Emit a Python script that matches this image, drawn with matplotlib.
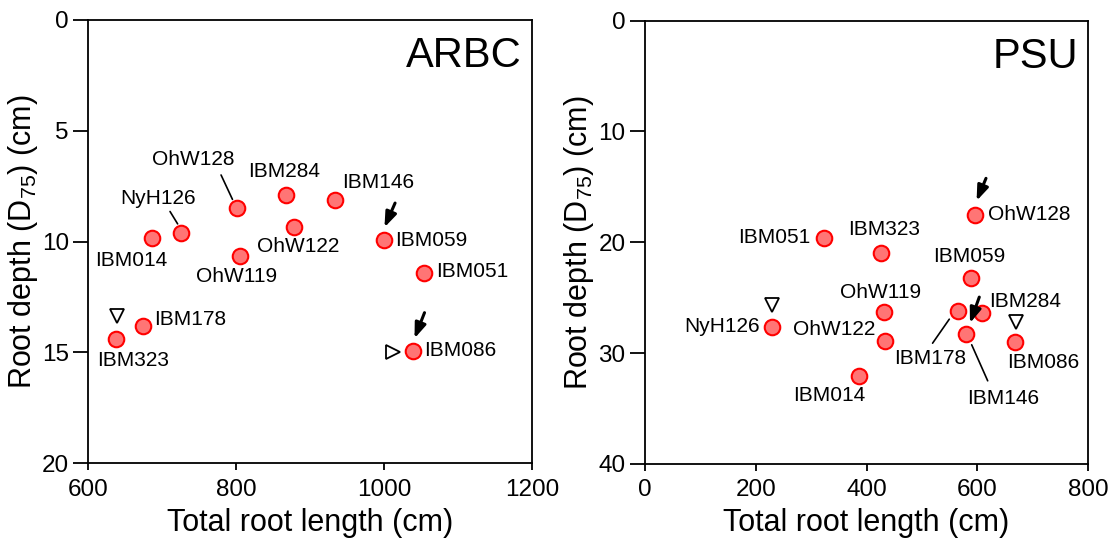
import matplotlib
matplotlib.use("Agg")
import matplotlib.pyplot as plt
import matplotlib.transforms as mtransforms

plt.rcParams['font.family'] = ['Liberation Sans', 'DejaVu Sans']
plt.rcParams['mathtext.fontset'] = 'custom'
plt.rcParams['mathtext.rm'] = 'Liberation Sans'

# ---------------- data ----------------
arbc_lines = ["IBM323", "IBM178", "IBM014", "NyH126", "OhW128", "OhW119",
              "IBM284", "OhW122", "IBM146", "IBM059", "IBM051", "IBM086"]
arbc_length = [637.5, 674.4, 686.2, 725.8, 800.8, 805.7, 867.9, 878.3, 934.2, 999.7, 1054.3, 1039.0]
arbc_depth = [14.38, 13.81, 9.82, 9.62, 8.47, 10.63, 7.89, 9.35, 8.12, 9.93, 11.43, 14.92]

psu_lines = ["NyH126", "IBM051", "IBM323", "OhW119", "OhW122", "IBM014",
             "OhW128", "IBM059", "IBM178", "IBM284", "IBM146", "IBM086"]
psu_length = [228.6, 323.0, 425.3, 431.9, 433.7, 386.8, 596.1, 587.8, 565.4, 608.8, 579.3, 667.2]
psu_depth = [27.6, 19.57, 20.92, 26.27, 28.88, 32.1, 17.52, 23.2, 26.24, 26.38, 28.28, 29.0]

arbc_xticks = [600, 800, 1000, 1200]
arbc_yticks = [0, 5, 10, 15, 20]
psu_xticks = [0, 200, 400, 600, 800]
psu_yticks = [0, 10, 20, 30, 40]

# ---------------- label layout (pixel offsets, image y downward) ----------------
arbc_labels = {
    "OhW128": (-44, -48, 'center'), "IBM284": (-2, -23, 'center'),
    "IBM146": (43, -17, 'center'), "NyH126": (-23, -35, 'center'),
    "IBM014": (-21, 23, 'center'), "OhW122": (4, 19, 'center'),
    "OhW119": (-4, 21, 'center'), "IBM059": (11, 0, 'left'),
    "IBM051": (12, -2, 'left'), "IBM178": (11, -7, 'left'),
    "IBM323": (17, 22, 'center'), "IBM086": (11, 0, 'left'),
}
arbc_leaders = {"OhW128": ((-15.7, -32.7), (-4.3, -8.3)),
                "NyH126": ((-11.3, -21.7), (-3.7, -9.3))}
arbc_arrows = {"IBM059": ((11.3, -37), (0.7, -12.7)),
               "IBM086": ((11.7, -38), (1.7, -12.3))}
arbc_tri = {"IBM323": ('v', 0.7, -22.7), "IBM086": ('>', -20.3, 1)}

psu_labels = {
    "OhW128": (13, 0, 'left'), "IBM051": (-14, 0, 'right'),
    "IBM323": (3, -23, 'center'), "IBM059": (-1, -21, 'center'),
    "OhW119": (-4, -19, 'center'), "NyH126": (-12, 0, 'right'),
    "OhW122": (-51, -11, 'center'), "IBM014": (-30, 19, 'center'),
    "IBM178": (-28, 47, 'center'), "IBM284": (43, -12, 'center'),
    "IBM146": (37, 64, 'center'), "IBM086": (29, 20, 'center'),
}
psu_leaders = {"IBM178": ((-9, 7.7), (-25.7, 31.7)),
               "IBM146": ((5.7, 10.7), (21.7, 46.7))}
psu_arrows = {"OhW128": ((10.7, -36.5), (1.3, -14)),
              "IBM146": ((13.3, -37), (4, -11))}
psu_tri = {"NyH126": ('v', 0, -21.7), "IBM086": ('v', 1, -20)}

FILL = '#ff7575'
EDGE = '#ff0000'

fig = plt.figure(figsize=(11.17, 5.48), dpi=100)
ax1 = fig.add_axes([0.0791, 0.1546, 0.397, 0.809])
ax2 = fig.add_axes([0.5774, 0.1533, 0.3969, 0.809])


def off(ax, dx, dy):
    return ax.transData + mtransforms.Affine2D().translate(dx, -dy)


def draw(ax, names, xs, ys, labels, leaders, arrows, tris, xlim, ylim, xticks, yticks, tag):
    ax.scatter(xs, ys, s=125, facecolor=FILL, edgecolor=EDGE, linewidth=1.5, zorder=3)
    pos = {n: (x, y) for n, x, y in zip(names, xs, ys)}
    for n, (dx, dy, ha) in labels.items():
        x, y = pos[n]
        ax.text(x, y, n, transform=off(ax, dx, dy), ha=ha, va='center', fontsize=15)
    for n, ((x0, y0), (x1, y1)) in leaders.items():
        x, y = pos[n]
        ax.annotate('', xy=(x, y), xycoords=off(ax, x1, y1),
                    xytext=(x, y), textcoords=off(ax, x0, y0),
                    arrowprops=dict(arrowstyle='-', lw=1.2, color='black',
                                    shrinkA=0, shrinkB=0))
    for n, ((x0, y0), (x1, y1)) in arrows.items():
        x, y = pos[n]
        ax.annotate('', xy=(x, y), xycoords=off(ax, x1, y1),
                    xytext=(x, y), textcoords=off(ax, x0, y0),
                    arrowprops=dict(arrowstyle='-|>,head_length=0.75,head_width=0.28',
                                    lw=2.2, color='black', shrinkA=0, shrinkB=0,
                                    mutation_scale=12))
    for n, (m, dx, dy) in tris.items():
        x, y = pos[n]
        ax.plot([x], [y], marker=m, ms=10.5, mfc='white', mec='black', mew=1.3,
                transform=off(ax, dx, dy), clip_on=False, zorder=4)
    ax.set_xlim(*xlim)
    ax.set_ylim(*ylim)
    ax.set_xticks(xticks)
    ax.set_yticks(yticks)
    ax.tick_params(axis='y', direction='out', length=11, width=1.3, labelsize=17.5, pad=3)
    ax.tick_params(axis='x', direction='out', length=5, width=1.3, labelsize=17.5, pad=6)
    for sp in ax.spines.values():
        sp.set_linewidth(1.3)
    ax.set_xlabel('Total root length (cm)', fontsize=22, labelpad=5)
    ax.set_ylabel('Root depth (D$_{\\mathrm{75}}$) (cm)', fontsize=22, labelpad=1.5)
    ax.text(0.978, 0.894, tag, transform=ax.transAxes, ha='right', va='baseline', fontsize=30)


draw(ax1, arbc_lines, arbc_length, arbc_depth, arbc_labels, arbc_leaders, arbc_arrows,
     arbc_tri, (600, 1200), (20, 0), arbc_xticks, arbc_yticks, 'ARBC')
draw(ax2, psu_lines, psu_length, psu_depth, psu_labels, psu_leaders, psu_arrows,
     psu_tri, (0, 800), (40, 0), psu_xticks, psu_yticks, 'PSU')

fig.savefig('out.png', dpi=100)
